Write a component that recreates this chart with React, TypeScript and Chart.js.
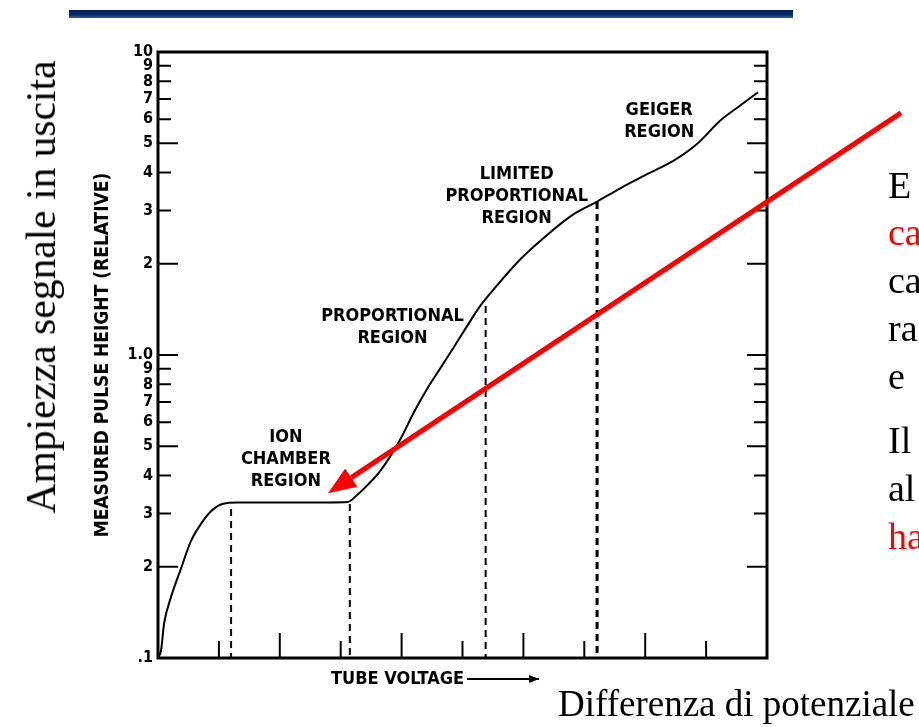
import React, { useEffect, useRef } from "react";
import { Chart, registerables } from "chart.js";

Chart.register(...registerables);

// ---- data ----
const curveX = [0, 0.05, 0.1, 0.21, 0.38, 0.54, 0.7, 0.87, 1.07, 1.3, 2.0, 2.8, 3.11, 3.27, 3.44, 3.66, 3.98, 4.2, 4.43, 4.64, 4.85, 5.08, 5.3, 5.57, 5.95, 6.39, 6.82, 7.21, 7.59, 8.03, 8.46, 8.85, 9.23, 9.56, 9.85];
const curveY = [0.1, 0.106, 0.13, 0.158, 0.198, 0.243, 0.276, 0.305, 0.323, 0.326, 0.326, 0.326, 0.327, 0.345, 0.372, 0.417, 0.527, 0.646, 0.78, 0.907, 1.055, 1.25, 1.46, 1.7, 2.07, 2.49, 2.91, 3.21, 3.55, 3.95, 4.37, 4.97, 5.93, 6.66, 7.36];

const dropX = [1.2, 3.15, 5.38, 7.21];
const dropTop = [0.31, 0.322, 1.45, 3.2];
const dropWidth = [2, 2, 2, 3];

const yTickValues = [0.1, 0.2, 0.3, 0.4, 0.5, 0.6, 0.7, 0.8, 0.9, 1, 2, 3, 4, 5, 6, 7, 8, 9, 10];
const xTickValues = [1, 2, 3, 4, 5, 6, 7, 8, 9];

const regionLabels = [
  { lines: ["ION", "CHAMBER", "REGION"], x: 2.1, y: 0.454 },
  { lines: ["PROPORTIONAL", "REGION"], x: 3.85, y: 1.23 },
  { lines: ["LIMITED", "PROPORTIONAL", "REGION"], x: 5.89, y: 3.34 },
  { lines: ["GEIGER", "REGION"], x: 8.23, y: 5.89 },
];

const arrowFrom = { x: 12.2, y: 6.3 };
const arrowTo = { x: 2.79, y: 0.35 };

const yAxisTitle = "MEASURED PULSE HEIGHT (RELATIVE)";
const xAxisTitle = "TUBE VOLTAGE";
const xTitleStart = 2.84;

const slideYLabel = "Ampiezza segnale in uscita";
const slideXLabel = "Differenza di potenziale";
const sideLines = [
  { text: "E", red: false, baseline: 198 },
  { text: "ca", red: true, baseline: 245 },
  { text: "ca", red: false, baseline: 293 },
  { text: "ra", red: false, baseline: 341 },
  { text: "e", red: false, baseline: 389 },
  { text: "Il", red: false, baseline: 453 },
  { text: "al", red: false, baseline: 501 },
  { text: "ha", red: true, baseline: 549 },
];

const FAM = "'DejaVu Sans Condensed', 'DejaVu Sans', sans-serif";
const SERIF = "'Liberation Serif', 'Times New Roman', serif";

function yLabel(v: number): string {
  if (v === 10) return "10";
  if (v === 1) return "1.0";
  if (v === 0.1) return ".1";
  if (v < 1) return String(Math.round(v * 10));
  return String(Math.round(v));
}

const decorPlugin = {
  id: "decor",
  afterDraw(chart: any) {
    const ctx = chart.ctx as CanvasRenderingContext2D;
    const { left, right, top, bottom } = chart.chartArea;
    const xs = chart.scales.x;
    const ys = chart.scales.y;
    ctx.save();
    ctx.strokeStyle = "#000";
    ctx.fillStyle = "#000";
    // frame
    ctx.lineWidth = 3;
    ctx.strokeRect(left, top, right - left, bottom - top);
    // inward y ticks
    ctx.lineWidth = 2;
    yTickValues.forEach((v, i) => {
      if (i === 0 || i === yTickValues.length - 1) return;
      const py = ys.getPixelForValue(v);
      const m = Math.round(v / Math.pow(10, Math.floor(Math.log10(v) + 1e-9)));
      const len = m === 1 || m === 2 || m === 5 ? 20 : 13;
      ctx.beginPath();
      ctx.moveTo(left, py);
      ctx.lineTo(left + len, py);
      ctx.moveTo(right, py);
      ctx.lineTo(right - len, py);
      ctx.stroke();
    });
    // inward x ticks
    xTickValues.forEach((v) => {
      const px = xs.getPixelForValue(v);
      const len = v % 2 === 0 ? 25 : 17;
      ctx.beginPath();
      ctx.moveTo(px, bottom);
      ctx.lineTo(px, bottom - len);
      ctx.stroke();
    });
    // region labels
    ctx.font = `bold 18px ${FAM}`;
    ctx.textAlign = "center";
    ctx.textBaseline = "middle";
    const lh = 22;
    regionLabels.forEach((r) => {
      const px = xs.getPixelForValue(r.x);
      const py = ys.getPixelForValue(r.y);
      const n = r.lines.length;
      r.lines.forEach((t, i) => {
        ctx.fillText(t, px, py + (i - (n - 1) / 2) * lh);
      });
    });
    // x axis title with arrow
    ctx.font = `bold 18px ${FAM}`;
    ctx.textAlign = "left";
    const tx = xs.getPixelForValue(xTitleStart);
    const ty = bottom + 21;
    ctx.fillText(xAxisTitle, tx, ty);
    const w = ctx.measureText(xAxisTitle).width;
    ctx.lineWidth = 2;
    ctx.beginPath();
    ctx.moveTo(tx + w + 3, ty);
    ctx.lineTo(tx + w + 75, ty);
    ctx.stroke();
    ctx.beginPath();
    ctx.moveTo(tx + w + 75, ty);
    ctx.lineTo(tx + w + 65, ty - 4);
    ctx.lineTo(tx + w + 65, ty + 4);
    ctx.closePath();
    ctx.fill();
    // red arrow
    const x1 = xs.getPixelForValue(arrowFrom.x);
    const y1 = ys.getPixelForValue(arrowFrom.y);
    const x2 = xs.getPixelForValue(arrowTo.x);
    const y2 = ys.getPixelForValue(arrowTo.y);
    const ang = Math.atan2(y2 - y1, x2 - x1);
    const headLen = 28;
    const headHalf = 11;
    const bx = x2 - headLen * Math.cos(ang);
    const by = y2 - headLen * Math.sin(ang);
    ctx.strokeStyle = "#ff0000";
    ctx.fillStyle = "#ff0000";
    ctx.lineWidth = 5;
    ctx.beginPath();
    ctx.moveTo(x1, y1);
    ctx.lineTo(bx, by);
    ctx.stroke();
    ctx.beginPath();
    ctx.moveTo(x2, y2);
    ctx.lineTo(bx + headHalf * Math.sin(ang), by - headHalf * Math.cos(ang));
    ctx.lineTo(bx - headHalf * Math.sin(ang), by + headHalf * Math.cos(ang));
    ctx.closePath();
    ctx.fill();
    ctx.restore();
  },
};

export default function App() {
  const canvasRef = useRef<HTMLCanvasElement | null>(null);

  useEffect(() => {
    const canvas = canvasRef.current;
    if (!canvas) return;
    const datasets: any[] = [
      {
        data: curveX.map((x, i) => ({ x, y: curveY[i] })),
        borderColor: "#000",
        borderWidth: 2,
        pointRadius: 0,
        cubicInterpolationMode: "monotone",
        fill: false,
      },
      ...dropX.map((x, i) => ({
        data: [
          { x, y: dropTop[i] },
          { x, y: 0.1 },
        ],
        borderColor: "#000",
        borderWidth: dropWidth[i],
        borderDash: [7, 5],
        pointRadius: 0,
        fill: false,
      })),
    ];
    const chart = new Chart(canvas, {
      type: "line",
      data: { datasets },
      options: {
        responsive: false,
        animation: false,
        events: [],
        layout: { padding: { left: 89, top: 52, right: 152, bottom: 69 } },
        plugins: { legend: { display: false }, tooltip: { enabled: false } },
        scales: {
          x: {
            type: "linear",
            min: 0,
            max: 10,
            grid: { display: false },
            border: { display: false },
            ticks: { display: false },
            afterFit: (s: any) => {
              s.height = 0;
            },
          },
          y: {
            type: "logarithmic",
            min: 0.1,
            max: 10,
            grid: { display: false, drawTicks: false },
            border: { display: false },
            afterBuildTicks: (s: any) => {
              s.ticks = yTickValues.map((value) => ({ value }));
            },
            afterFit: (s: any) => {
              s.width = 69;
            },
            ticks: {
              autoSkip: false,
              padding: 5,
              color: "#000",
              font: { family: FAM, size: 16, weight: "bold" },
              callback: (v: any) => yLabel(Number(v)),
            },
            title: {
              display: true,
              text: yAxisTitle,
              color: "#000",
              font: { family: FAM, size: 19, weight: "bold" },
              padding: { top: 3, bottom: 3 },
            },
          },
        },
      } as any,
      plugins: [decorPlugin],
    });
    return () => chart.destroy();
  }, []);

  const sideSize = 38;
  return (
    <div
      style={{
        position: "fixed",
        left: 0,
        top: 0,
        width: 919,
        height: 727,
        overflow: "hidden",
        background: "#fff",
      }}
    >
      <div
        style={{
          position: "absolute",
          left: 69,
          top: 10,
          width: 724,
          height: 8,
          background: "linear-gradient(#001f5c 0%, #0a2a6a 60%, #3a5a9a 100%)",
        }}
      />
      <canvas
        ref={canvasRef}
        width={919}
        height={727}
        style={{ position: "absolute", left: 0, top: 0, width: 919, height: 727 }}
      />
      <div
        style={{
          position: "absolute",
          left: 41,
          top: 287,
          transform: "translate(-50%, -50%) rotate(-90deg)",
          whiteSpace: "nowrap",
          fontFamily: SERIF,
          fontSize: 41.5,
          lineHeight: "42px",
          color: "#000",
        }}
      >
        {slideYLabel}
      </div>
      <div
        style={{
          position: "absolute",
          left: 558,
          top: 716 - 0.837 * 37,
          whiteSpace: "nowrap",
          fontFamily: SERIF,
          fontSize: 37,
          lineHeight: "37px",
          color: "#000",
        }}
      >
        {slideXLabel}
      </div>
      {sideLines.map((l, i) => (
        <div
          key={i}
          style={{
            position: "absolute",
            left: 888,
            top: l.baseline - 0.837 * sideSize,
            whiteSpace: "nowrap",
            fontFamily: SERIF,
            fontSize: sideSize,
            lineHeight: `${sideSize}px`,
            color: l.red ? "#ff0000" : "#000",
          }}
        >
          {l.text}
        </div>
      ))}
    </div>
  );
}
